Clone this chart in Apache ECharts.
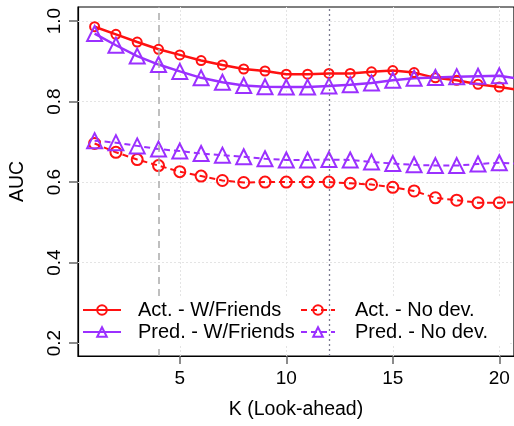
<!DOCTYPE html>
<html><head><meta charset="utf-8">
<script src="https://cdn.jsdelivr.net/npm/echarts@6/dist/echarts.min.js"></script>
<style>html,body{margin:0;padding:0;background:#fff}#c{width:514px;height:426px}</style>
</head><body><div id="c"></div>
<script>
const K = [1,2,3,4,5,6,7,8,9,10,11,12,13,14,15,16,17,18,19,20,21];
const actFriends = [0.986,0.967,0.948,0.930,0.916,0.902,0.891,0.881,0.876,0.868,0.868,0.870,0.870,0.874,0.877,0.872,0.859,0.853,0.843,0.836,0.828];
const predFriends = [0.969,0.940,0.913,0.892,0.875,0.859,0.848,0.840,0.837,0.836,0.836,0.839,0.842,0.846,0.853,0.858,0.860,0.862,0.863,0.864,0.856];
const actNoDev = [0.696,0.674,0.656,0.641,0.626,0.615,0.604,0.599,0.600,0.600,0.600,0.600,0.597,0.594,0.587,0.578,0.561,0.555,0.549,0.549,0.550];
const predNoDev = [0.703,0.698,0.690,0.682,0.677,0.671,0.667,0.663,0.658,0.655,0.655,0.656,0.655,0.650,0.646,0.643,0.641,0.641,0.645,0.648,0.645];
const xTicks = [5,10,15,20];
const yTicks = [0.2,0.4,0.6,0.8,1.0];
const vLines = [4,12];

const RED = '#ff1111', PURPLE = '#9b30ff';
const font = 'Liberation Sans, Arial, Helvetica, sans-serif';
const pts = arr => K.map((k,i)=>[k,arr[i]]);

function series(name, data, color, dashed, symbol, size) {
  return {
    name, type:'line', data: pts(data), symbol, symbolSize: size,
    showSymbol:true, clip:true, z:2,
    lineStyle:{color, width: dashed?2:2.5, type: dashed?[6,4]:'solid'},
    itemStyle:{color:'rgba(255,255,255,0)', borderColor:color, borderWidth:2},
    emphasis:{disabled:true}
  };
}

const chart = echarts.init(document.getElementById('c'), null, {renderer:'canvas'});
chart.setOption({
  animation:false,
  backgroundColor:'#fff',
  grid:{left:77, top:7, right:-3, bottom:70, show:true, borderColor:'#000', borderWidth:1.2, backgroundColor:'transparent'},
  xAxis:{
    type:'value', min:0.22, max:20.69,
    name:'K (Look-ahead)', nameLocation:'middle', nameGap:44,
    nameTextStyle:{fontFamily:font, fontSize:19.5, color:'#000'},
    axisLine:{show:true, lineStyle:{color:'#000', width:1.2}},
    axisTick:{show:true, customValues:xTicks, length:8, lineStyle:{color:'#666', width:1.5}},
    axisLabel:{customValues:xTicks, fontFamily:font, fontSize:19, color:'#000', margin:13},
    splitLine:{show:false}
  },
  yAxis:{
    type:'value', min:0.168, max:1.035,
    name:'AUC', nameLocation:'middle', nameGap:50, nameRotate:90,
    nameTextStyle:{fontFamily:font, fontSize:19.5, color:'#000'},
    axisLine:{show:true, lineStyle:{color:'#000', width:1.2}},
    axisTick:{show:true, customValues:yTicks, length:9, lineStyle:{color:'#666', width:1.5}},
    axisLabel:{customValues:yTicks, rotate:90, fontFamily:font, fontSize:19, color:'#000', margin:14,
      formatter:v=>v.toFixed(1)},
    splitLine:{show:false}
  },
  legend:[{
    left:80, top:298, orient:'vertical', itemGap:2, itemWidth:38, itemHeight:12,
    backgroundColor:'#fff', padding:[2,14,2,2],
    data:['Act. - W/Friends','Pred. - W/Friends'],
    textStyle:{fontFamily:font, fontSize:20, color:'#000', padding:[0,0,0,12]}
  },{
    left:298, top:298, orient:'vertical', itemGap:2, itemWidth:34, itemHeight:12,
    backgroundColor:'#fff', padding:[2,20,2,2],
    data:['Act. - No dev.','Pred. - No dev.'],
    textStyle:{fontFamily:font, fontSize:20, color:'#000', padding:[0,0,0,15]}
  }],
  series:[
    {type:'line', data:[], silent:true, markLine:{silent:true, symbol:'none', z:1, label:{show:false},
      lineStyle:{color:'#e4e4e4', width:1, type:[2,2]},
      data: xTicks.map(v=>({xAxis:v})).concat(yTicks.map(v=>({yAxis:v})))}},
    {type:'line', data:[], silent:true, markLine:{silent:true, symbol:'none', z:3, label:{show:false},
      lineStyle:{color:'#aaaaaa', width:1.5, type:[7,5]}, data:[{xAxis:vLines[0]}]}},
    {type:'line', data:[], silent:true, markLine:{silent:true, symbol:'none', z:6, label:{show:false},
      lineStyle:{color:'#7a7a90', width:1.3, type:[2,3]}, data:[{xAxis:vLines[1]}]}},
    series('Act. - W/Friends', actFriends, RED, false, 'circle', 9),
    series('Pred. - W/Friends', predFriends, PURPLE, false, 'triangle', 15),
    series('Act. - No dev.', actNoDev, RED, true, 'circle', 11),
    series('Pred. - No dev.', predNoDev, PURPLE, true, 'triangle', 15)
  ]
});
</script></body></html>
